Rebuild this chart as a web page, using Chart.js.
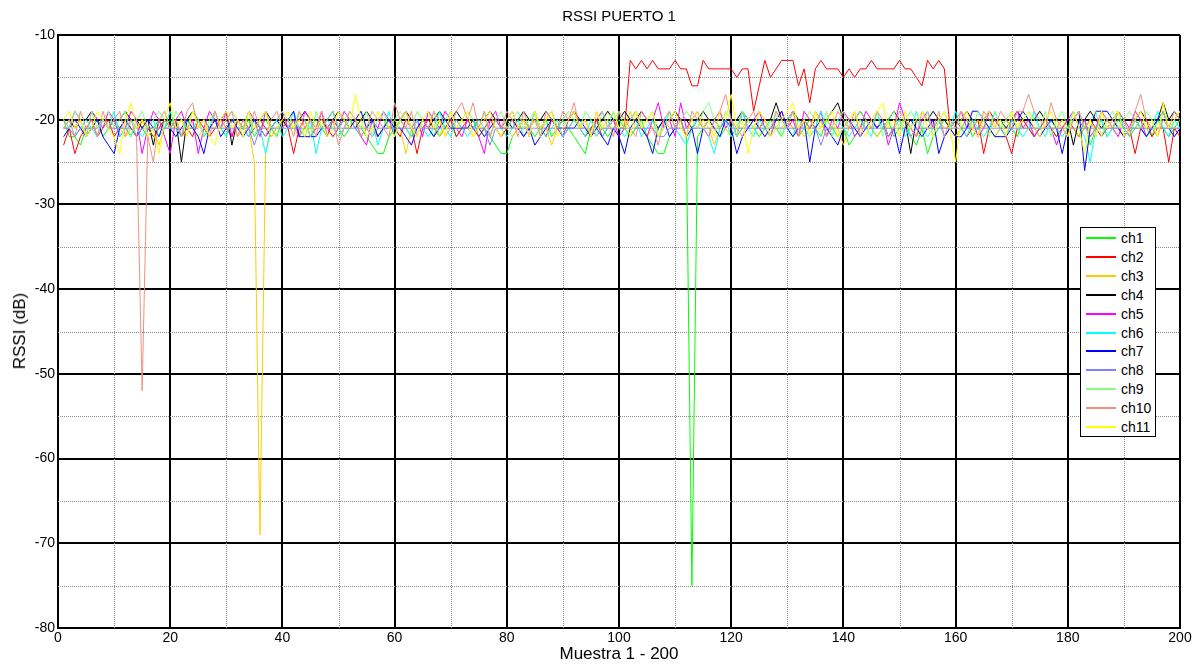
<!DOCTYPE html>
<html><head><meta charset="utf-8">
<script src="https://cdn.jsdelivr.net/npm/chart.js@4/dist/chart.umd.min.js"></script>
<style>
html,body{margin:0;padding:0;background:#fff;}
#wrap{position:relative;width:1200px;height:666px;font-family:"Liberation Sans",Arial,sans-serif;color:#000;}
canvas{position:absolute;left:0;top:0;}
.t{position:absolute;white-space:nowrap;}
#title{left:0;width:1238px;top:7px;text-align:center;font-size:15px;}
#xlab{left:0;width:1238px;top:644px;text-align:center;font-size:17px;}
#ylab{left:20px;top:331px;font-size:17px;transform:translate(-50%,-50%) rotate(-90deg);}
#legend{position:absolute;left:1080px;top:227px;width:76px;height:210px;border:1px solid #000;background:#fff;box-sizing:border-box;}
.sw{position:absolute;left:5px;width:30px;height:2px;}
.lt{position:absolute;left:40px;font-size:14px;line-height:16px;}
</style></head>
<body><div id="wrap">
<canvas id="c" width="1200" height="666"></canvas>
<div class="t" id="title">RSSI PUERTO 1</div>
<div class="t" id="xlab">Muestra 1 - 200</div>
<div class="t" id="ylab">RSSI (dB)</div>
<div id="legend"></div>
</div>
<script>
const seriesNames = ['ch1','ch2','ch3','ch4','ch5','ch6','ch7','ch8','ch9','ch10','ch11'];
const xTicksMinor = [10,30,50,70,90,110,130,150,170,190];
const yTicksMinor = [-15,-25,-35,-45,-55,-65,-75];

const ch1 = [
-20,-22,-22,-23,-21,-21,-20,-22,-21,-20,-21,-21,-22,-20,-21,-22,-21,-20,-21,-20,
-21,-22,-20,-21,-20,-22,-21,-20,-21,-22,-20,-21,-21,-20,-22,-21,-20,-21,-22,-20,
-21,-20,-22,-21,-21,-20,-21,-22,-20,-21,-22,-21,-20,-21,-22,-23,-24,-24,-22,-21,
-20,-21,-22,-21,-20,-21,-22,-20,-21,-20,-22,-21,-21,-20,-22,-21,-22,-23,-24,-24,
-22,-21,-20,-21,-22,-21,-20,-22,-21,-20,-21,-22,-23,-24,-21,-20,-21,-22,-21,-20,
-21,-22,-21,-20,-22,-23,-24,-24,-22,-21,-20,-22,-75,-22,-21,-20,-21,-22,-21,-20,
-22,-21,-20,-21,-22,-21,-20,-21,-22,-20,-21,-22,-21,-20,-21,-22,-20,-21,-22,-21,
-23,-22,-21,-20,-21,-22,-21,-20,-22,-21,-20,-22,-23,-21,-24,-22,-21,-20,-21,-22,
-21,-20,-22,-21,-20,-21,-22,-21,-20,-21,-22,-20,-21,-22,-21,-20,-21,-22,-21,-20,
-21,-22,-20,-23,-21,-20,-22,-21,-20,-21,-22,-21,-20,-21,-22,-20,-21,-22,-21,-20];
const ch2 = [
-23,-21,-24,-22,-21,-20,-22,-21,-20,-22,-21,-20,-21,-22,-20,-21,-22,-21,-20,-21,
-20,-22,-21,-22,-20,-21,-22,-21,-20,-21,-22,-20,-21,-22,-21,-20,-21,-22,-21,-20,
-21,-24,-21,-20,-22,-21,-20,-21,-22,-21,-20,-21,-20,-22,-21,-20,-22,-21,-20,-21,
-22,-20,-21,-24,-21,-20,-21,-22,-21,-20,-22,-21,-20,-21,-22,-21,-20,-21,-22,-21,
-20,-21,-22,-21,-20,-21,-22,-20,-21,-22,-21,-20,-21,-22,-21,-20,-22,-21,-20,-21,
-21,-13,-14,-13,-14,-13,-14,-14,-14,-13,-14,-14,-16,-16,-13,-14,-14,-14,-14,-14,
-15,-14,-14,-19,-16,-13,-15,-14,-13,-13,-13,-16,-14,-18,-14,-13,-14,-14,-14,-15,
-14,-15,-14,-14,-13,-14,-14,-14,-14,-13,-14,-14,-15,-16,-13,-14,-13,-14,-21,-20,
-21,-22,-21,-20,-24,-21,-20,-21,-22,-24,-21,-20,-21,-22,-21,-20,-21,-22,-21,-20,
-21,-22,-21,-20,-21,-22,-21,-20,-21,-22,-21,-24,-21,-20,-22,-21,-21,-25,-21,-22];
const ch3 = [
-21,-21,-20,-21,-22,-21,-21,-20,-21,-21,-21,-22,-21,-21,-20,-21,-21,-23,-21,-21,
-21,-20,-21,-21,-22,-21,-21,-21,-20,-21,-21,-22,-21,-21,-25,-69,-24,-21,-21,-20,
-21,-21,-22,-21,-21,-21,-20,-21,-21,-22,-21,-21,-20,-21,-21,-21,-22,-21,-21,-20,
-21,-24,-21,-21,-20,-21,-21,-22,-21,-21,-21,-20,-21,-22,-21,-21,-21,-20,-21,-21,
-22,-21,-21,-21,-20,-21,-21,-23,-21,-21,-21,-20,-21,-21,-22,-21,-21,-21,-20,-21,
-21,-19,-21,-21,-22,-21,-21,-20,-21,-21,-21,-22,-21,-21,-20,-21,-23,-21,-21,-22,
-21,-21,-20,-21,-21,-22,-21,-21,-21,-20,-21,-21,-22,-21,-21,-21,-20,-21,-21,-23,
-21,-21,-20,-21,-21,-22,-21,-21,-21,-20,-21,-21,-22,-21,-21,-21,-20,-21,-21,-22,
-21,-21,-21,-20,-21,-21,-22,-21,-21,-21,-20,-21,-21,-21,-21,-21,-21,-21,-21,-21,
-21,-22,-21,-21,-21,-21,-21,-21,-21,-20,-21,-21,-21,-21,-21,-21,-21,-21,-21,-21];
const ch4 = [
-20,-20,-21,-20,-20,-19,-20,-20,-21,-20,-20,-19,-20,-20,-21,-20,-23,-20,-20,-20,
-20,-25,-20,-19,-20,-20,-21,-20,-20,-19,-23,-20,-20,-21,-20,-20,-19,-20,-20,-20,
-21,-20,-20,-19,-20,-20,-20,-21,-20,-19,-20,-20,-21,-20,-19,-20,-20,-20,-21,-20,
-20,-19,-20,-20,-20,-21,-20,-19,-20,-20,-19,-20,-20,-21,-20,-20,-19,-20,-20,-20,
-21,-20,-19,-20,-20,-20,-19,-20,-21,-20,-20,-19,-20,-20,-20,-21,-20,-19,-20,-20,
-19,-20,-20,-19,-20,-20,-21,-20,-20,-19,-20,-20,-21,-20,-19,-20,-20,-21,-20,-20,
-20,-19,-20,-20,-21,-20,-20,-18,-20,-20,-19,-20,-20,-21,-20,-20,-20,-19,-18,-20,
-20,-20,-19,-20,-20,-21,-20,-20,-19,-20,-20,-24,-20,-20,-20,-19,-20,-20,-21,-20,
-20,-19,-20,-20,-20,-19,-20,-20,-21,-20,-19,-20,-20,-20,-19,-20,-20,-21,-20,-20,
-23,-20,-20,-19,-20,-21,-20,-20,-19,-20,-20,-20,-19,-20,-20,-20,-18,-20,-19,-20];
const ch5 = [
-20,-21,-19,-20,-22,-19,-20,-21,-19,-20,-22,-21,-19,-20,-24,-21,-19,-20,-22,-24,
-20,-19,-21,-20,-24,-21,-19,-20,-21,-19,-22,-20,-21,-19,-20,-22,-19,-21,-20,-19,
-21,-20,-22,-19,-20,-21,-19,-22,-20,-21,-19,-20,-21,-22,-23,-20,-21,-19,-20,-22,
-20,-19,-21,-20,-22,-19,-20,-21,-19,-20,-21,-22,-20,-21,-22,-24,-20,-19,-21,-20,
-19,-21,-20,-22,-19,-21,-20,-19,-21,-22,-20,-19,-21,-20,-22,-20,-19,-21,-20,-22,
-21,-20,-19,-21,-22,-20,-18,-21,-20,-22,-18,-21,-20,-19,-21,-22,-20,-19,-21,-20,
-22,-19,-21,-20,-19,-21,-22,-20,-19,-21,-20,-22,-19,-20,-21,-19,-22,-20,-21,-19,
-20,-22,-21,-19,-20,-21,-20,-23,-21,-18,-20,-21,-22,-20,-19,-21,-20,-22,-21,-20,
-19,-21,-20,-22,-21,-19,-20,-21,-22,-20,-19,-21,-20,-22,-21,-20,-21,-23,-21,-20,
-19,-21,-20,-22,-21,-19,-20,-21,-22,-20,-21,-19,-20,-22,-21,-20,-19,-21,-20,-19];
const ch6 = [
-21,-20,-22,-21,-20,-21,-22,-20,-21,-19,-22,-21,-20,-21,-22,-21,-20,-22,-21,-19,
-21,-22,-20,-21,-20,-22,-21,-19,-21,-22,-20,-21,-21,-22,-20,-21,-24,-21,-20,-22,
-21,-19,-21,-22,-20,-24,-21,-20,-21,-22,-21,-20,-21,-22,-21,-20,-23,-21,-19,-22,
-20,-21,-22,-20,-21,-22,-21,-19,-21,-22,-20,-21,-22,-21,-20,-21,-22,-20,-21,-22,
-21,-20,-22,-21,-19,-21,-22,-21,-20,-22,-21,-20,-21,-22,-20,-21,-22,-21,-19,-21,
-22,-21,-20,-22,-21,-20,-22,-21,-19,-21,-22,-23,-21,-20,-21,-22,-24,-21,-20,-22,
-21,-19,-21,-22,-20,-21,-22,-21,-20,-21,-22,-20,-21,-22,-21,-19,-21,-22,-20,-21,
-22,-21,-20,-21,-22,-19,-21,-22,-21,-20,-22,-21,-19,-21,-22,-21,-20,-22,-21,-19,
-21,-22,-20,-21,-22,-21,-19,-21,-22,-20,-21,-22,-21,-19,-21,-22,-20,-21,-22,-21,
-19,-21,-22,-25,-21,-20,-22,-21,-19,-21,-22,-20,-21,-22,-21,-19,-21,-22,-20,-21];
const ch7 = [
-22,-21,-20,-21,-22,-21,-20,-22,-23,-24,-21,-20,-21,-22,-21,-20,-21,-22,-20,-21,
-22,-21,-20,-21,-22,-24,-21,-20,-22,-21,-20,-21,-22,-21,-20,-21,-22,-21,-20,-21,
-20,-19,-22,-22,-22,-22,-21,-20,-19,-21,-20,-21,-20,-19,-21,-20,-22,-21,-20,-21,
-21,-22,-23,-21,-20,-21,-22,-21,-20,-21,-21,-21,-21,-20,-21,-22,-21,-20,-21,-21,
-20,-21,-22,-21,-23,-22,-21,-20,-21,-21,-21,-21,-20,-21,-22,-21,-22,-23,-21,-22,
-24,-21,-20,-21,-22,-24,-21,-20,-22,-21,-20,-22,-21,-24,-21,-20,-21,-22,-20,-21,
-24,-22,-21,-20,-21,-22,-21,-20,-19,-21,-22,-21,-20,-25,-21,-20,-21,-22,-23,-21,
-20,-21,-22,-21,-20,-21,-20,-22,-21,-24,-21,-20,-21,-22,-21,-20,-24,-22,-21,-22,
-22,-21,-19,-19,-20,-21,-22,-22,-22,-21,-20,-19,-20,-21,-22,-21,-20,-21,-24,-21,
-20,-19,-26,-21,-19,-19,-19,-20,-21,-22,-21,-20,-21,-22,-21,-20,-19,-21,-22,-21];
const ch8 = [
-21,-21,-22,-21,-21,-21,-21,-20,-21,-21,-21,-21,-21,-22,-21,-21,-21,-21,-21,-21,
-21,-21,-21,-21,-21,-20,-21,-21,-21,-21,-21,-21,-21,-21,-23,-21,-21,-21,-21,-21,
-21,-21,-21,-21,-20,-21,-21,-21,-21,-21,-21,-21,-21,-21,-21,-22,-21,-21,-21,-21,
-21,-21,-21,-21,-21,-21,-21,-21,-21,-21,-20,-21,-21,-21,-21,-21,-23,-21,-21,-21,
-21,-21,-21,-21,-21,-21,-21,-21,-21,-21,-21,-21,-21,-21,-21,-22,-21,-21,-21,-21,
-21,-21,-21,-21,-21,-21,-22,-22,-21,-21,-21,-21,-21,-21,-21,-21,-21,-21,-20,-21,
-21,-21,-21,-21,-21,-21,-21,-21,-21,-21,-21,-21,-21,-21,-21,-23,-21,-21,-21,-21,
-21,-21,-21,-21,-21,-21,-21,-21,-21,-21,-21,-22,-21,-21,-21,-21,-21,-21,-21,-21,
-21,-21,-21,-21,-21,-21,-21,-21,-21,-21,-21,-21,-21,-21,-21,-21,-21,-21,-21,-21,
-21,-21,-21,-21,-21,-21,-21,-21,-21,-21,-21,-21,-21,-21,-21,-21,-21,-21,-21,-21];
const ch9 = [
-20,-21,-19,-20,-22,-19,-21,-20,-19,-21,-20,-19,-22,-20,-19,-21,-20,-19,-20,-21,
-19,-20,-21,-19,-20,-22,-20,-19,-21,-20,-19,-20,-21,-19,-22,-20,-19,-21,-20,-19,
-20,-21,-19,-20,-22,-19,-21,-20,-19,-21,-20,-19,-20,-21,-19,-22,-20,-19,-21,-20,
-19,-20,-21,-19,-20,-21,-19,-22,-20,-19,-21,-20,-19,-20,-21,-19,-22,-20,-19,-21,
-20,-19,-21,-20,-19,-22,-20,-19,-21,-20,-19,-20,-21,-19,-20,-22,-19,-21,-20,-19,
-21,-20,-19,-21,-20,-19,-22,-20,-19,-21,-20,-19,-20,-21,-19,-18,-20,-21,-19,-20,
-22,-19,-20,-21,-19,-20,-21,-19,-22,-20,-19,-21,-20,-19,-20,-21,-19,-22,-20,-19,
-21,-20,-19,-20,-21,-19,-22,-20,-19,-21,-20,-19,-20,-21,-19,-22,-20,-19,-21,-20,
-19,-20,-21,-19,-20,-22,-19,-21,-20,-19,-21,-20,-19,-20,-21,-19,-22,-20,-19,-21,
-20,-19,-21,-20,-19,-22,-20,-19,-21,-20,-19,-20,-21,-19,-20,-22,-19,-21,-20,-19];
const ch10 = [
-21,-20,-22,-19,-21,-20,-22,-19,-21,-20,-19,-22,-20,-22,-52,-22,-25,-20,-19,-21,
-20,-22,-19,-18,-21,-20,-22,-19,-21,-20,-19,-22,-20,-21,-19,-21,-22,-20,-19,-21,
-20,-22,-19,-21,-20,-22,-19,-21,-20,-23,-21,-19,-20,-22,-21,-19,-20,-21,-22,-18,
-20,-21,-19,-22,-20,-21,-19,-20,-22,-21,-19,-18,-20,-18,-21,-19,-22,-20,-21,-19,
-20,-22,-19,-21,-20,-22,-19,-20,-21,-19,-20,-18,-21,-20,-22,-19,-21,-20,-22,-19,
-20,-21,-22,-19,-20,-21,-23,-20,-19,-21,-20,-22,-19,-20,-21,-22,-20,-19,-17,-20,
-21,-22,-20,-19,-21,-20,-22,-19,-20,-21,-19,-22,-20,-21,-19,-20,-22,-21,-19,-20,
-21,-19,-22,-20,-21,-19,-20,-22,-21,-19,-20,-21,-22,-19,-20,-21,-19,-22,-20,-21,
-19,-20,-21,-22,-19,-20,-21,-19,-20,-21,-19,-19,-17,-19,-20,-21,-18,-20,-21,-22,
-20,-19,-21,-20,-22,-19,-20,-21,-19,-20,-22,-19,-17,-20,-21,-22,-20,-21,-19,-20];
const ch11 = [
-20,-19,-21,-20,-22,-21,-19,-20,-21,-22,-24,-20,-18,-21,-20,-22,-21,-24,-20,-18,
-21,-20,-22,-19,-21,-20,-22,-23,-20,-19,-21,-20,-22,-19,-21,-20,-19,-22,-21,-20,
-19,-21,-20,-22,-19,-21,-20,-22,-21,-19,-20,-21,-17,-20,-22,-21,-19,-20,-21,-22,
-20,-19,-21,-22,-20,-19,-21,-20,-22,-19,-21,-20,-19,-22,-21,-20,-19,-21,-22,-20,
-19,-21,-20,-22,-19,-21,-20,-19,-22,-21,-20,-19,-21,-20,-22,-19,-21,-20,-19,-21,
-20,-22,-19,-21,-20,-19,-22,-21,-20,-19,-21,-22,-20,-19,-21,-20,-22,-19,-20,-17,
-21,-20,-24,-21,-19,-20,-22,-21,-20,-19,-18,-21,-20,-22,-19,-21,-20,-19,-22,-21,
-20,-19,-21,-22,-20,-19,-18,-21,-20,-22,-19,-21,-20,-19,-21,-22,-20,-19,-21,-25,
-20,-19,-21,-22,-20,-19,-21,-20,-22,-19,-21,-20,-19,-21,-22,-20,-19,-21,-20,-22,
-19,-21,-24,-20,-22,-19,-21,-20,-19,-22,-21,-20,-19,-21,-20,-22,-18,-21,-20,-19];

const seriesValues = [ch1,ch2,ch3,ch4,ch5,ch6,ch7,ch8,ch9,ch10,ch11];
const seriesColors = ['#00ff00','#ff0000','#ffcc00','#000000','#ff00ff','#00ffff','#0000ff','#8080ff','#80ff80','#f09080','#ffff00'];

const datasets = seriesValues.map((vals, i) => ({
  label: seriesNames[i],
  data: vals.map((v, k) => ({x: k + 1, y: v})),
  borderColor: seriesColors[i],
  backgroundColor: seriesColors[i],
  borderWidth: 1,
  pointRadius: 0,
  tension: 0,
  fill: false,
  order: seriesValues.length - i
}));

const minorGrid = {
  id: 'minorGrid',
  beforeDatasetsDraw(chart) {
    const {ctx, chartArea: a, scales: {x, y}} = chart;
    ctx.save();
    ctx.strokeStyle = '#8a8a8a';
    ctx.lineWidth = 1;
    ctx.setLineDash([1, 1]);
    xTicksMinor.forEach(v => {
      const p = Math.round(x.getPixelForValue(v)) + 0.5;
      ctx.beginPath(); ctx.moveTo(p, a.top); ctx.lineTo(p, a.bottom); ctx.stroke();
    });
    yTicksMinor.forEach(v => {
      const p = Math.round(y.getPixelForValue(v)) + 0.5;
      ctx.beginPath(); ctx.moveTo(a.left, p); ctx.lineTo(a.right, p); ctx.stroke();
    });
    ctx.restore();
  }
};

new Chart(document.getElementById('c'), {
  type: 'line',
  data: { datasets },
  options: {
    responsive: false,
    animation: false,
    events: [],
    layout: { padding: { left: 0, right: 20, top: 35, bottom: 0 } },
    plugins: { legend: { display: false }, title: { display: false }, tooltip: { enabled: false } },
    scales: {
      x: {
        type: 'linear', min: 0, max: 200,
        afterFit(s) { s.height = 38; },
        ticks: { stepSize: 20, color: '#000', font: { family: 'Liberation Sans', size: 14 }, padding: 2, maxRotation: 0 },
        grid: { color: '#000', lineWidth: 2, drawTicks: false },
        border: { display: true, color: '#000', width: 2 }
      },
      y: {
        min: -80, max: -10,
        afterFit(s) { s.width = 58; },
        ticks: { stepSize: 10, color: '#000', font: { family: 'Liberation Sans', size: 14 }, padding: 3 },
        grid: { color: '#000', lineWidth: 2, drawTicks: false },
        border: { display: true, color: '#000', width: 2 }
      }
    }
  },
  plugins: [minorGrid]
});

const lg = document.getElementById('legend');
seriesNames.forEach((n, i) => {
  const cy = Math.round(10 + i * 18.9);
  const sw = document.createElement('div');
  sw.className = 'sw';
  sw.style.top = (cy - 1) + 'px';
  sw.style.backgroundColor = seriesColors[i];
  const t = document.createElement('div');
  t.className = 'lt';
  t.style.top = (cy - 8) + 'px';
  t.textContent = n;
  lg.appendChild(sw); lg.appendChild(t);
});
</script>
</body></html>
